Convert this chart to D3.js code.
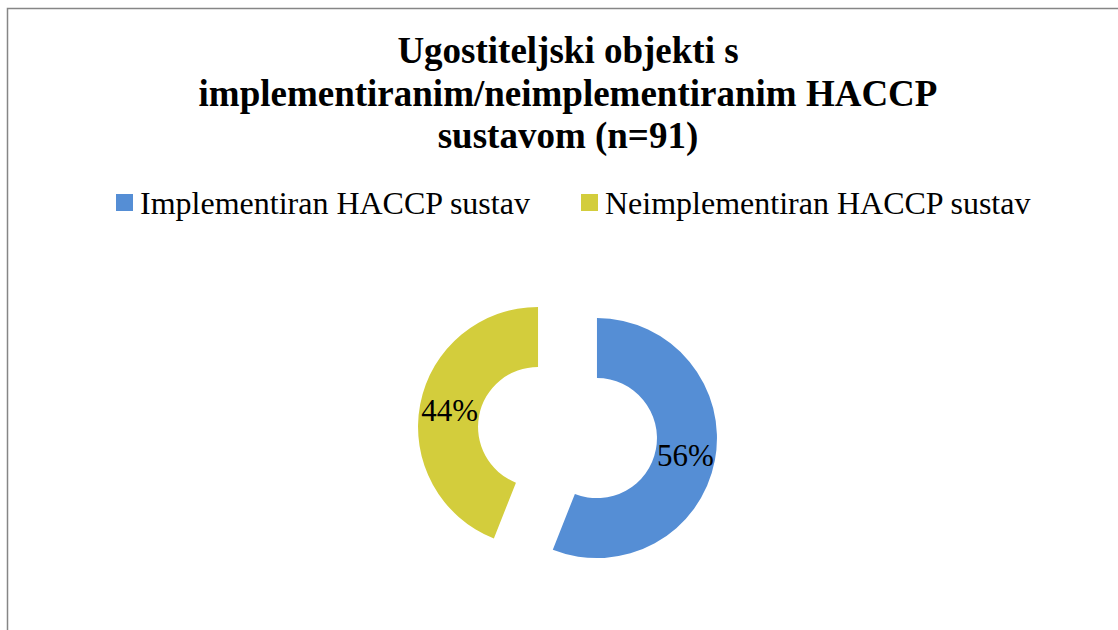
<!DOCTYPE html>
<html>
	<head>
		<meta charset="utf-8">
		<title>HACCP</title>
		<style>
			body {
			  margin: 0;
			  background: #fff;
			  overflow: hidden;
			}
			svg {
			  position: absolute;
			}
			svg text {
			  font-family: "Liberation Serif", "Times New Roman", Times, "DejaVu Serif", serif;
			}
		</style>
		<script src="https://cdn.jsdelivr.net/npm/d3@7"></script>
	</head>
	<body>
		<script>

		var categories = ["Implementiran HACCP sustav", "Neimplementiran HACCP sustav"];
		var values = [56, 44];
		var colors = ["#558ED5", "#D3CD3C"];
		var titleLines = ["Ugostiteljski objekti s", "implementiranim/neimplementiranim HACCP", "sustavom (n=91)"];

		var w = 1118,
			h = 630;

		var svg = d3.select("body").append("svg")
			.attr("width", w)
			.attr("height", h);

		// chart area border (right and bottom edges fall outside the window)
		svg.append("rect")
			.attr("x", 7.5).attr("y", 8.5)
			.attr("width", 1200).attr("height", 700)
			.attr("fill", "none")
			.attr("stroke", "#868686")
			.attr("stroke-width", 1.5);

		svg.selectAll("text.title")
			.data(titleLines)
			.enter().append("text")
			.attr("class", "title")
			.attr("x", 568)
			.attr("y", function(d, i){ return 63 + i * 42.5; })
			.attr("text-anchor", "middle")
			.attr("font-size", "37px")
			.attr("font-weight", "bold")
			.text(function(d){ return d; });

		// legend
		var legendX = [116, 581];
		var legend = svg.selectAll("g.legend")
			.data(categories)
			.enter().append("g")
			.attr("class", "legend")
			.attr("transform", function(d, i){ return "translate(" + legendX[i] + ",194)"; });

		legend.append("rect")
			.attr("width", 17).attr("height", 17)
			.attr("fill", function(d, i){ return colors[i]; });

		legend.append("text")
			.attr("x", 24)
			.attr("y", 20)
			.attr("font-size", "32px")
			.attr("font-weight", "normal")
			.text(function(d){ return d; });

		// doughnut, both slices pulled out from the centre
		var cx = 567.5, cy = 432.5,
			outer = 120, inner = 60, explode = 30;

		var pie = d3.pie().sort(null).value(function(d){ return d; });
		var arc = d3.arc().innerRadius(inner).outerRadius(outer);
		var labelArc = d3.arc().innerRadius((inner + outer) / 2).outerRadius((inner + outer) / 2);

		var slices = svg.append("g")
			.attr("transform", "translate(" + cx + "," + cy + ")")
			.selectAll("g")
			.data(pie(values))
			.enter().append("g")
			.attr("transform", function(d){
				var a = (d.startAngle + d.endAngle) / 2;
				return "translate(" + (explode * Math.sin(a)) + "," + (-explode * Math.cos(a)) + ")";
			});

		slices.append("path")
			.attr("d", arc)
			.attr("fill", function(d, i){ return colors[i]; });

		slices.append("text")
			.attr("transform", function(d){ return "translate(" + labelArc.centroid(d) + ")"; })
			.attr("dy", "0.34em")
			.attr("text-anchor", "middle")
			.attr("font-size", "31px")
			.text(function(d){ return d.data + "%"; });

		</script>
	</body>
</html>
